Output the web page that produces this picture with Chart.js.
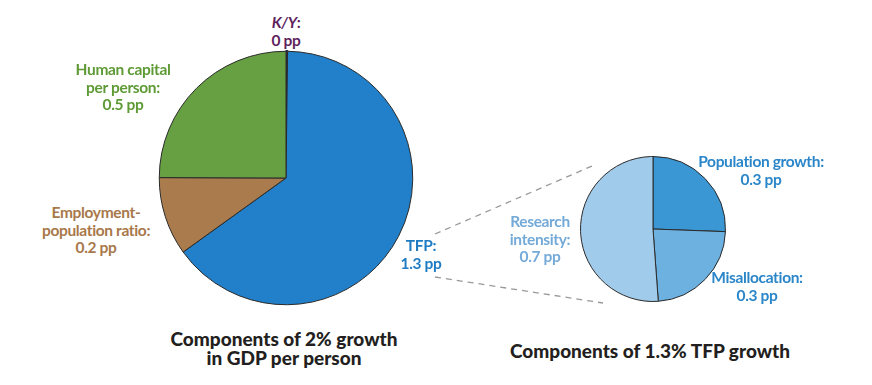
<!DOCTYPE html>
<html><head><meta charset="utf-8">
<script src="https://cdn.jsdelivr.net/npm/chart.js@4"></script>
<style>
html,body{margin:0;padding:0;background:#fff;}
#wrap{position:relative;width:872px;height:385px;overflow:hidden;font-family:"Lato","Open Sans",sans-serif;}
.lbl{position:absolute;text-align:center;font-size:15.5px;line-height:17.5px;font-weight:700;letter-spacing:-0.35px;white-space:nowrap;transform:translateX(-50%);}
.ttl{position:absolute;text-align:center;font-size:19px;line-height:18.5px;font-weight:900;color:#231f20;white-space:nowrap;transform:translateX(-50%);}
#c1box{position:absolute;left:157px;top:49px;width:258px;height:258px;}
#c2box{position:absolute;left:579px;top:155px;width:148px;height:148px;}
svg{position:absolute;left:0;top:0;}
</style></head>
<body><div id="wrap">
<svg width="872" height="385"><g stroke="#999" stroke-width="1.3" stroke-dasharray="6,5" fill="none">
<line x1="435" y1="234" x2="592" y2="166"/><line x1="435" y1="277" x2="603" y2="303"/></g></svg>
<div id="c1box"><canvas id="c1" width="258" height="258"></canvas></div>
<div id="c2box"><canvas id="c2" width="148" height="148"></canvas></div>
<div class="lbl" style="left:286px;top:14px;color:#5e1f5e"><i>K/Y</i>:<br>0 pp</div>
<div class="lbl" style="left:123px;top:61px;color:#5e9a35">Human capital<br>per person:<br>0.5 pp</div>
<div class="lbl" style="left:96px;top:204px;color:#a8784a">Employment-<br>population ratio:<br>0.2 pp</div>
<div class="lbl" style="left:421px;top:237px;color:#1f7cc2">TFP:<br>1.3 pp</div>
<div class="lbl" style="left:540px;top:213px;color:#74aad8">Research<br>intensity:<br>0.7 pp</div>
<div class="lbl" style="left:761px;top:153px;color:#2a86c8">Population growth:<br>0.3 pp</div>
<div class="lbl" style="left:757px;top:269px;color:#2a86c8">Misallocation:<br>0.3 pp</div>
<div class="ttl" style="left:284px;top:330px">Components of 2% growth<br>in GDP per person</div>
<div class="ttl" style="left:650px;top:342px">Components of 1.3% TFP growth</div>
</div>
<script>
// Components of 2% growth in GDP per person (pp); K/Y shown as a hairline
const gdpCategories = ["K/Y", "TFP", "Employment-population ratio", "Human capital per person"];
const gdpValues = [0.004, 1.3, 0.2, 0.5];
const gdpLabels = ["0 pp", "1.3 pp", "0.2 pp", "0.5 pp"];
const tfpCategories = ["Population growth", "Misallocation", "Research intensity"];
const tfpValues = [0.33, 0.3, 0.66];
const tfpLabels = ["0.3 pp", "0.3 pp", "0.7 pp"];

const common = {
  responsive:false, animation:false, events:[],
  plugins:{legend:{display:false}, tooltip:{enabled:false}},
  layout:{padding:1}
};
new Chart(document.getElementById('c1'), {
  type:'pie',
  data:{labels:gdpCategories, datasets:[{data:gdpValues,
    backgroundColor:['#2b2a44','#2180c9','#a97b4d','#67a042'],
    borderColor:['#2b2a44','#2a2a2a','#2a2a2a','#2a2a2a'],
    borderWidth:[2.5,1,1,1]}]},
  options:common
});
new Chart(document.getElementById('c2'), {
  type:'pie',
  data:{labels:tfpCategories, datasets:[{data:tfpValues,
    backgroundColor:['#3b97d3','#6db1e0','#a1cbeb'],
    borderColor:'#2a2a2a', borderWidth:1}]},
  options:common
});
</script>
</body></html>
